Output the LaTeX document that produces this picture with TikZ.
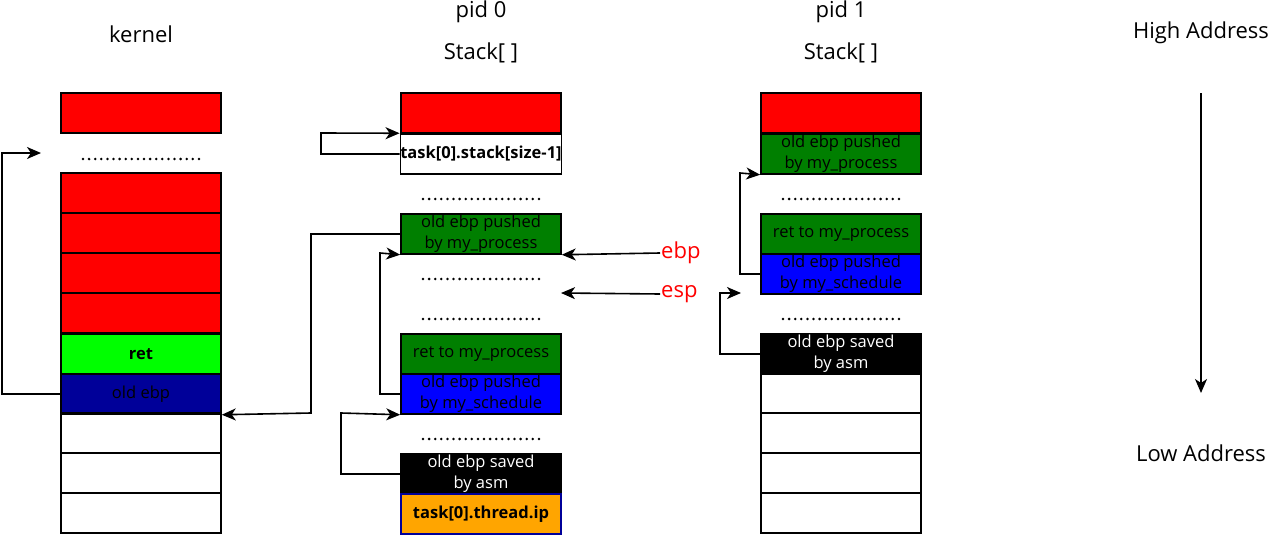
\documentclass[tikz,border=0pt]{standalone}
\usepackage{fontspec}
\setmainfont{Open Sans}
\usetikzlibrary{arrows.meta}
\definecolor{dgreen}{HTML}{007F00}
\definecolor{lgreen}{HTML}{00FF00}
\definecolor{dblue}{HTML}{000099}
\definecolor{bblue}{HTML}{0000FF}
\definecolor{orng}{HTML}{FFA500}
\begin{document}
\begin{tikzpicture}[x=1pt,y=-1pt,
  cell/.style={draw=black,line width=1.5pt,minimum width=160pt,minimum height=40pt,inner sep=0pt,align=center,font=\fontsize{16.5}{21}\selectfont},
  bcell/.style={cell,font=\fontsize{16.5}{21}\selectfont\bfseries},
  title/.style={font=\fontsize{22}{26}\selectfont},
  conn/.style={line width=1.6pt,-{Stealth[length=14pt,width=12pt,inset=4pt]}},
  dots/.style={line width=2.8pt,dash pattern=on 0pt off 6.1pt,line cap=round}]
\useasboundingbox (0,0) rectangle (1268,535);
% titles
\node[title] (tk) at (141,34) {kernel};
\node[title] (tp0) at (481,12) {pid 0};
\node[title] (ts0) at (481,53) {Stack[ ]};
\node[title] (tp1) at (841,12) {pid 1};
\node[title] (ts1) at (841,53) {Stack[ ]};
\node[title] (hi) at (1201,33) {High Address};
\node[title] (lo) at (1201,453) {Low Address};
\draw[conn] (hi.south |- 0,93) -- (1201,393);
% kernel column
\node[cell,fill=red] (k1) at (141,113) {};
\coordinate (kd) at (41,153);
\draw[dots] (83,159) -- (202,159);
\node[cell,fill=red] (k2) at (141,193) {};
\node[cell,fill=red] (k3) at (141,233) {};
\node[cell,fill=red] (k4) at (141,273) {};
\node[cell,fill=red] (k5) at (141,313) {};
\node[bcell,fill=lgreen] (kret) at (141,354) {ret};
\node[cell,fill=dblue] (kebp) at (141,394) {old ebp};
\node[cell] (k8) at (141,433) {};
\node[cell] (k9) at (141,473) {};
\node[cell] (k10) at (141,513) {};
% pid 0 column
\node[cell,fill=red] (a1) at (481,113) {};
\node[bcell] (a2) at (481,154) {task[0].stack[size-1]};
\draw[dots] (423,199) -- (542,199);
\node[cell,fill=dgreen] (a3) at (481,234) {old ebp pushed\\by my\_process};
\draw[dots] (423,279) -- (542,279);
\coordinate (aesp) at (561,293);
\draw[dots] (423,319) -- (542,319);
\node[cell,fill=dgreen] (a4) at (481,354) {ret to my\_process};
\node[cell,fill=bblue] (a5) at (481,394) {old ebp pushed\\by my\_schedule};
\draw[dots] (423,439) -- (542,439);
\node[cell,fill=black,text=white] (a6) at (481,474) {old ebp saved\\by asm};
\node[bcell,fill=orng,draw=dblue] (a7) at (481,514) {task[0].thread.ip};
% pid 1 column
\node[cell,fill=red] (b1) at (841,113) {};
\node[cell,fill=dgreen] (b2) at (841,154) {old ebp pushed\\by my\_process};
\draw[dots] (783,199) -- (902,199);
\node[cell,fill=dgreen] (b3) at (841,234) {ret to my\_process};
\node[cell,fill=bblue] (b4) at (841,274) {old ebp pushed\\by my\_schedule};
\coordinate (bgap) at (741,293);
\draw[dots] (783,319) -- (902,319);
\node[cell,fill=black,text=white] (b5) at (841,354) {old ebp saved\\by asm};
\node[cell] (b6) at (841,393) {};
\node[cell] (b7) at (841,433) {};
\node[cell] (b8) at (841,473) {};
\node[cell] (b9) at (841,513) {};
% ebp / esp labels
\node[text=red,font=\fontsize{22}{26}\selectfont,anchor=west,inner sep=1pt] (ebp) at (660,253) {ebp};
\node[text=red,font=\fontsize{22}{26}\selectfont,anchor=west,inner sep=1pt] (esp) at (660,294) {esp};
% connectors
\draw[conn] (kebp.west) -- (2,394) -- (2,153) -- (kd);
\draw[conn] (a3.west) -- (311,234) -- (311,413) -- (kebp.south east);
\draw[conn] (a2.west) -- (321,154) -- (321,133) -- (a2.north west);
\draw[conn] (a5.west) -- (380,394) -- (380,253) -- (a3.south west);
\draw[conn] (a6.west) -- (341,474) -- (341,413) -- (a5.south west);
\draw[conn] (ebp.west) -- (a3.south east);
\draw[conn] (esp.west) -- (aesp);
\draw[conn] (b4.west) -- (740,274) -- (740,173) -- (b2.south west);
\draw[conn] (b5.west) -- (720,354) -- (720,293) -- (bgap);
\end{tikzpicture}
\end{document}
